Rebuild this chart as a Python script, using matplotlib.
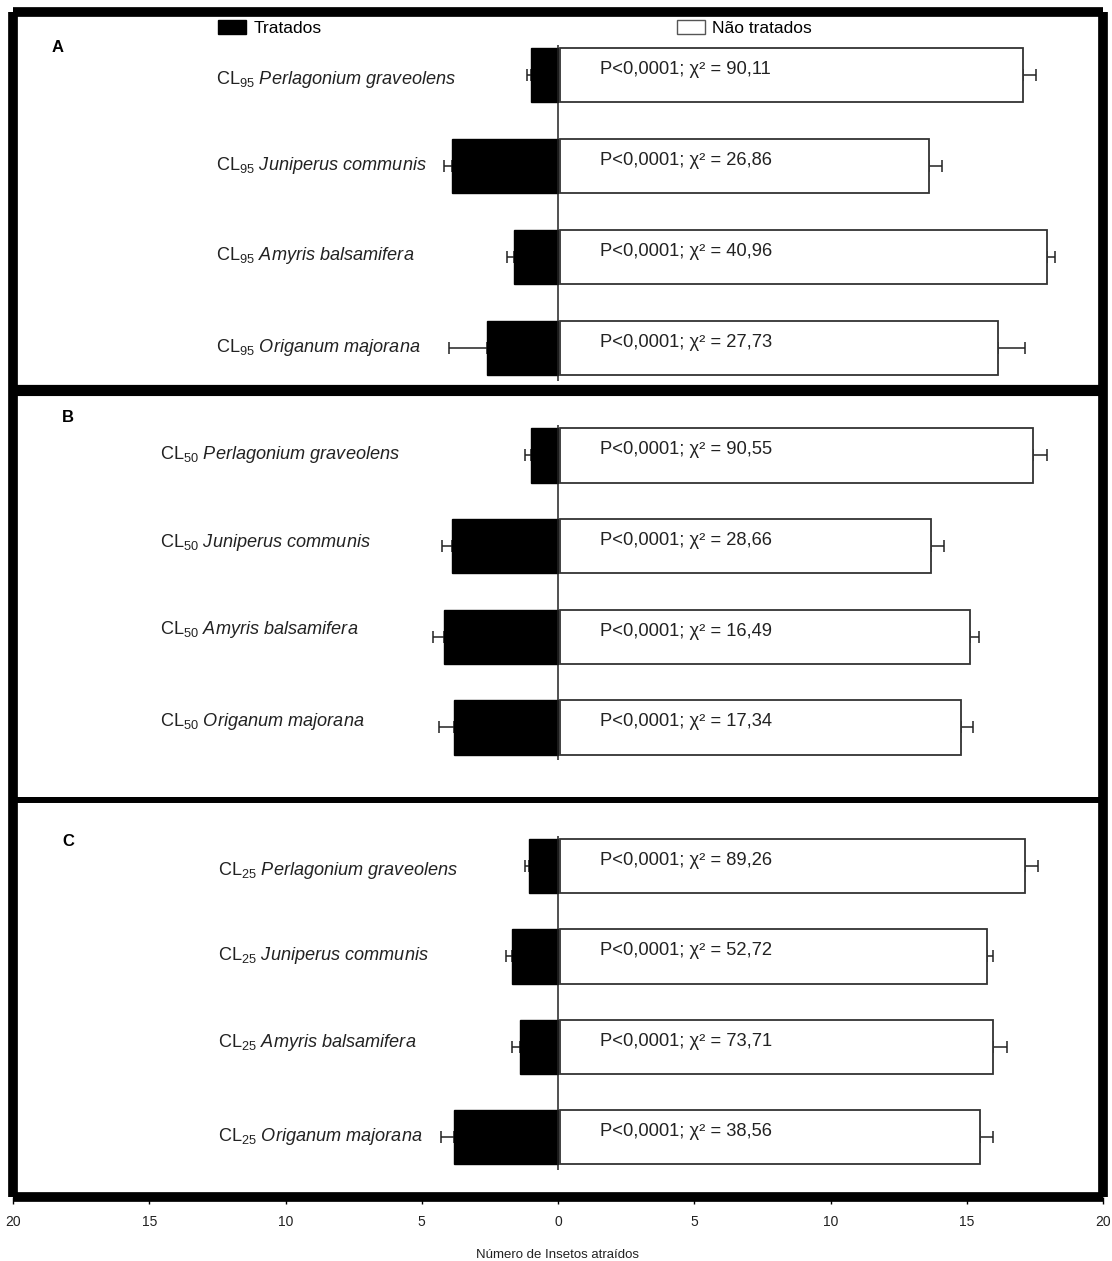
import numpy as np, matplotlib.pyplot as plt
from matplotlib.patches import Patch

plt.rcParams['font.family'] = ['Liberation Sans', 'DejaVu Sans']
plt.rcParams['mathtext.fontset'] = 'custom'
plt.rcParams['mathtext.rm'] = 'Liberation Sans'
plt.rcParams['mathtext.it'] = 'Liberation Sans:italic'

# ---------------- data ----------------
species = ["Perlagonium graveolens", "Juniperus communis", "Amyris balsamifera", "Origanum majorana"]
panels = ["A", "B", "C"]
doses = ["95", "50", "25"]

treated = {"A": [1.0, 3.9, 1.6, 2.6],
           "B": [1.0, 3.9, 4.2, 3.8],
           "C": [1.05, 1.7, 1.4, 3.8]}
treated_err = {"A": [0.15, 0.28, 0.26, 1.4],
               "B": [0.2, 0.37, 0.37, 0.55],
               "C": [0.15, 0.22, 0.3, 0.48]}
untreated = {"A": [17.0, 13.55, 17.85, 16.05],
             "B": [17.35, 13.6, 15.05, 14.7],
             "C": [17.05, 15.65, 15.9, 15.4]}
untreated_err = {"A": [0.45, 0.48, 0.3, 1.0],
                 "B": [0.5, 0.48, 0.33, 0.44],
                 "C": [0.5, 0.22, 0.48, 0.5]}
chi2 = {"A": ["90,11", "26,86", "40,96", "27,73"],
        "B": ["90,55", "28,66", "16,49", "17,34"],
        "C": ["89,26", "52,72", "73,71", "38,56"]}

ticks = [-20, -15, -10, -5, 0, 5, 10, 15, 20]

# ---------------- layout ----------------
W, H = 1112, 1261
fig = plt.figure(figsize=(W/100, H/100), dpi=100)
L, R = 13/W, 1103/W
bounds = [(12, 390), (390, 800), (800, 1197)]          # pixel rows of panels
ylims = [(3.46, -0.69), (3.80, -0.72), (3.66, -0.73)]
label_x = [216, 160, 218]                              # left edge of category labels
letter_xy = [(58, 47), (68, 418), (68, 842)]
label_dy = [(5, 0, -2, -1), (-1, -4, -7, -6), (4, -1, -4, -1)]  # px down from bar centre
BH = 0.6
INK = "#222222"

for i, p in enumerate(panels):
    top, bot = bounds[i]
    ax = fig.add_axes([L, 1 - bot/H, R - L, (bot - top)/H])
    y = np.arange(len(species))
    t = np.array(treated[p]); te = np.array(treated_err[p])
    u = np.array(untreated[p]); ue = np.array(untreated_err[p])

    ax.barh(y, -t, height=BH, color="black", edgecolor="black", lw=1, zorder=2)
    ax.barh(y, u, left=0.08, height=BH, color="white", edgecolor="#333333", lw=1.3, zorder=2)
    ax.errorbar(-t, y, xerr=[te, np.zeros_like(te)], fmt="none", ecolor=INK,
                elinewidth=1.1, capsize=4.5, capthick=1.1, zorder=1)
    ax.errorbar(u + 0.08, y, xerr=[np.zeros_like(ue), ue], fmt="none", ecolor=INK,
                elinewidth=1.1, capsize=4.5, capthick=1.1, zorder=1)
    ax.vlines(0, -BH/2 - 0.03, len(species) - 1 + BH/2 + 0.06, color=INK, lw=1.1, zorder=3)

    for k, sp in enumerate(species):
        ax.annotate(f"P<0,0001; χ² = {chi2[p][k]}", xy=(1.55, k), xytext=(0, 4),
                    textcoords="offset points", fontsize=13.2, color=INK,
                    ha="left", va="center", zorder=4)
        ax.annotate(r"CL$_{\mathregular{%s}}$ $\it{%s}$" % (doses[i], sp.replace(" ", r"\ ")),
                    xy=(label_x[i]/W, k), xycoords=("figure fraction", "data"),
                    xytext=(0, -label_dy[i][k]*0.72), textcoords="offset points",
                    fontsize=13.1, color=INK, ha="left", va="center")

    lx, ly = letter_xy[i]
    fig.text(lx/W, 1 - ly/H, p, fontsize=12, weight="bold", ha="center", va="center")

    ax.set_xlim(-20, 20); ax.set_ylim(*ylims[i])
    ax.set_yticks([])
    for s in ax.spines.values():
        s.set_linewidth(7.0)
        s.set_capstyle("butt")
    if i == 0:
        ax.spines["bottom"].set_linewidth(8)
    if i == 1:
        ax.spines["top"].set_linewidth(8)
        ax.spines["bottom"].set_linewidth(4.3)
    if i == 2:
        ax.spines["top"].set_linewidth(4.3)
        ax.set_xticks(ticks)
        ax.set_xticklabels([str(abs(v)) for v in ticks], fontsize=10, color=INK)
        ax.tick_params(axis="x", length=5, width=1, pad=8)
        ax.set_xlabel("Número de Insetos atraídos", fontsize=9.5, labelpad=14, color=INK)
    else:
        ax.set_xticks([])

# legend
hs = [Patch(facecolor="black", edgecolor="black"), Patch(facecolor="white", edgecolor="#555555")]
fig.legend(hs, ["Tratados", "Não tratados"], loc="upper left", ncol=2, frameon=False,
           bbox_to_anchor=(218/W, 1 - 20/H), fontsize=12.5, handlelength=1.6,
           handleheight=0.85, handletextpad=0.45, columnspacing=20.45, borderpad=0,
           borderaxespad=0)

fig.savefig("out.png", dpi=100, facecolor="white")
